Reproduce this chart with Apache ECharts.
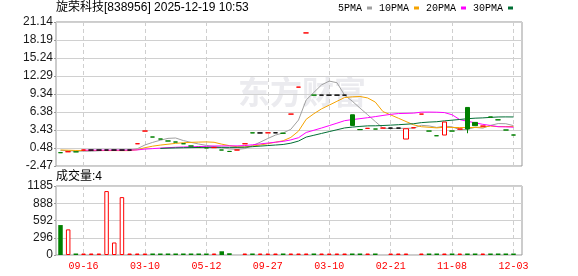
<!DOCTYPE html>
<html><head><meta charset="utf-8">
<script src="https://cdn.jsdelivr.net/npm/echarts@6/dist/echarts.min.js"></script>
<style>html,body{margin:0;padding:0;background:#fff}#c{width:578px;height:276px}</style>
</head><body><div id="c"></div>
<script>
const titleText = '旋荣科技[838956] 2025-12-19 10:53';
const volTitle = '成交量:4';
const legendNames = ['5PMA', '10PMA', '20PMA', '30PMA'];
const labelIdx = [3, 11, 19, 27, 35, 43, 51, 59];
const labelText = ['09-16', '03-10', '05-12', '09-27', '03-10', '02-21', '11-08', '12-03'];
const priceTicks = ['-2.47', '0.48', '3.43', '6.38', '9.34', '12.29', '15.24', '18.19', '21.14'];
const volTicks = ['0', '296', '592', '888', '1185'];

const opens = [-0.28, -0.13, -0.15, 0.15, 0.15, 0.15, 0.15, 0.15, 0.15, 0.15,
  1.18, 3.26, 2.28, 1.95, 1.63, 1.46, 1.18, 0.81, 0.58, 0.50,
  0.55, 0.15, -0.08, 0.15, 1.18, 2.97, 2.95, 2.97, 2.97, 2.90,
  6.04, 10.46, 19.35, 9.15, 9.15, 9.15, 9.15, 9.15, 5.93, 3.50,
  3.70, 3.59, 3.75, 3.75, 3.75, 1.95, 3.80, 6.04, 3.26, 2.49,
  2.61, 3.26, 3.59, 7.13, 4.68, 4.07, 5.57, 5.10, 3.43, 2.61];
const closes = [-0.29, -0.13, -0.15, 0.15, 0.15, 0.15, 0.15, 0.15, 0.15, 0.15,
  1.18, 3.26, 2.28, 1.95, 1.63, 1.46, 1.18, 0.81, 0.58, 0.50,
  0.55, 0.15, -0.08, 0.15, 1.18, 2.95, 2.95, 2.97, 2.97, 2.90,
  6.04, 10.46, 19.35, 9.15, 9.15, 9.15, 9.15, 9.15, 4.18, 3.50,
  3.70, 3.59, 3.75, 3.75, 3.75, 3.64, 3.80, 6.04, 3.26, 2.49,
  4.74, 3.26, 3.59, 3.60, 4.14, 4.08, 5.55, 5.10, 3.43, 2.61];
const lows = [-0.29, -0.13, -0.15, 0.15, 0.15, 0.15, 0.15, 0.15, 0.15, 0.15,
  1.18, 3.26, 2.28, 1.95, 1.63, 1.46, 1.18, 0.81, 0.58, 0.50,
  0.55, 0.15, -0.08, 0.15, 1.18, 2.95, 2.95, 2.97, 2.97, 2.90,
  6.04, 10.46, 19.35, 9.15, 9.15, 9.15, 9.15, 9.15, 4.18, 3.50,
  3.70, 3.59, 3.75, 3.75, 3.75, 1.95, 3.80, 6.04, 3.26, 2.49,
  2.61, 3.26, 3.59, 2.90, 4.14, 4.07, 5.55, 5.10, 3.43, 2.61];
const highs = [-0.28, -0.13, -0.15, 0.15, 0.15, 0.15, 0.15, 0.15, 0.15, 0.15,
  1.18, 3.26, 2.28, 1.95, 1.63, 1.46, 1.18, 0.81, 0.58, 0.50,
  0.55, 0.15, -0.08, 0.15, 1.18, 2.97, 2.95, 2.97, 2.97, 2.90,
  6.04, 10.46, 19.35, 9.15, 9.15, 9.15, 9.15, 9.15, 5.93, 3.50,
  3.70, 3.59, 3.75, 3.75, 3.75, 3.64, 3.80, 6.04, 3.26, 2.49,
  4.74, 3.26, 3.59, 7.13, 4.68, 4.08, 5.57, 5.10, 3.43, 2.61];
const volumes = [514, 440, 10, 10, 10, 10, 1098, 215, 994, 10,
  10, 10, 10, 10, 10, 10, 10, 10, 10, 10,
  10, 64, 30, null, 10, 10, 10, 10, 10, 10,
  10, 10, 10, 10, 10, 10, 10, 10, 10, 10,
  10, 10, null, 10, 10, 10, null, 10, 10, 10,
  10, 10, 10, 10, 10, 10, 10, 10, 10, 4];
const ma5 = [0.10, 0.04, -0.03, -0.04, -0.05, 0.03, 0.09, 0.15, 0.15, 0.15,
  0.36, 0.98, 1.40, 1.76, 2.06, 2.12, 1.70, 1.41, 1.13, 0.91,
  0.72, 0.52, 0.34, 0.25, 0.39, 0.87, 1.43, 2.04, 2.60, 2.95,
  3.55, 5.07, 8.36, 9.59, 10.83, 11.45, 11.19, 9.15, 8.16, 7.03,
  5.94, 4.82, 3.74, 3.66, 3.71, 3.70, 3.74, 4.20, 4.10, 3.85,
  4.07, 3.96, 3.47, 3.54, 3.87, 3.73, 4.19, 4.49, 4.46, 4.15];
const ma10 = [0.15, 0.12, 0.08, 0.08, 0.07, 0.07, 0.06, 0.06, 0.05, 0.05,
  0.20, 0.53, 0.78, 0.96, 1.10, 1.24, 1.34, 1.41, 1.45, 1.48,
  1.42, 1.11, 0.87, 0.69, 0.65, 0.80, 0.97, 1.19, 1.43, 1.67,
  2.22, 3.25, 5.19, 6.10, 6.90, 7.51, 8.14, 8.75, 8.87, 8.93,
  8.69, 8.01, 6.45, 5.91, 5.37, 4.82, 4.28, 3.97, 3.88, 3.78,
  3.88, 3.85, 3.83, 3.82, 3.86, 3.90, 4.08, 3.98, 4.00, 4.01];
const ma20 = [null, null, null, 0.13, 0.13, 0.13, 0.13, 0.13, 0.13, 0.13,
  0.17, 0.30, 0.38, 0.46, 0.54, 0.60, 0.65, 0.69, 0.72, 0.75,
  0.81, 0.82, 0.83, 0.83, 0.88, 1.01, 1.15, 1.29, 1.43, 1.57,
  1.81, 2.17, 3.03, 3.39, 3.76, 4.15, 4.55, 4.96, 5.14, 5.29,
  5.45, 5.63, 5.82, 6.00, 6.13, 6.16, 6.20, 6.36, 6.37, 6.35,
  6.29, 5.93, 5.14, 4.86, 4.61, 4.36, 4.18, 3.98, 3.94, 3.89];
const ma30 = [null, null, null, null, null, null, null, null, null, null,
  null, null, null, 0.41, 0.46, 0.50, 0.53, 0.55, 0.57, 0.58,
  0.59, 0.59, 0.58, 0.58, 0.61, 0.70, 0.79, 0.88, 0.97, 1.06,
  1.27, 1.62, 2.27, 2.57, 2.87, 3.17, 3.47, 3.77, 3.91, 4.02,
  4.11, 4.12, 4.17, 4.23, 4.30, 4.38, 4.46, 4.64, 4.73, 4.79,
  4.93, 5.04, 5.16, 5.28, 5.37, 5.42, 5.50, 5.57, 5.58, 5.57];

const UP = '#ff0000', DOWN = '#008000', FLAT = '#000000';
const maColors = ['#a0a0a0', '#f5a300', '#ff00ff', '#006f35'];
const cats = closes.map((_, i) => i);

const dirs = closes.map((c, i) => {
  const o = opens[i];
  if (c > o) return 1;
  if (c < o) return -1;
  const p = i > 0 ? closes[i - 1] : o;
  return c > p ? 1 : (c < p ? -1 : 0);
});
const candleData = closes.map((c, i) => {
  const col = dirs[i] > 0 ? UP : (dirs[i] < 0 ? DOWN : FLAT);
  const fill = (dirs[i] > 0) ? '#ffffff' : col;
  return { value: [opens[i], c, lows[i], highs[i]],
    itemStyle: { color: fill, color0: fill, borderColor: col, borderColor0: col, borderColorDoji: col } };
});
const volData = volumes.map((v, i) => {
  if (v == null) return '-';
  return dirs[i] < 0
    ? { value: v, itemStyle: { color: DOWN, borderColor: DOWN, borderWidth: 0 } }
    : { value: v, itemStyle: { color: '#ffffff', borderColor: UP, borderWidth: 1 } };
});

const isLabel = (idx) => labelIdx.indexOf(idx) >= 0;
const font = "'Liberation Sans', 'Noto Sans CJK SC', sans-serif";
const GL = 56, GR = 56, DL = 60.5, DR = 64.5;
const MT = 22, MH = 144, VT = 186, VH = 69;

const chart = echarts.init(document.getElementById('c'), null, { renderer: 'canvas' });
chart.setOption({
  animation: false,
  backgroundColor: '#ffffff',
  title: [
    { text: titleText, left: 56, top: 2, padding: 0, textStyle: { fontSize: 12, fontWeight: 'normal', fontFamily: font, color: '#000' } },
    { text: volTitle, left: 56, top: 171, padding: 0, textStyle: { fontSize: 12, fontWeight: 'normal', fontFamily: font, color: '#000' } }
  ],
  legend: {
    data: legendNames, left: 338, top: 3, padding: 0, itemWidth: 5, itemHeight: 3, itemGap: 7,
    align: 'right', icon: 'rect', selectedMode: false,
    textStyle: { fontFamily: "'Liberation Mono', monospace", fontSize: 10, color: '#000' }
  },
  graphic: [{
    type: 'text', left: 238, top: 76, z: -10, silent: true,
    style: { text: '东方财富', font: "bold 32px 'Noto Sans CJK SC'", fill: '#ebebef' }
  }],
  grid: [
    { left: GL, right: GR, top: MT, height: MH, show: true, borderColor: '#999', borderWidth: 1, backgroundColor: 'transparent' },
    { left: DL, right: DR, top: MT, height: MH },
    { left: GL, right: GR, top: VT, height: VH, show: true, borderColor: '#999', borderWidth: 1, backgroundColor: 'transparent' },
    { left: DL, right: DR, top: VT, height: VH }
  ],
  xAxis: [
    { gridIndex: 0, type: 'value', show: false, min: 0, max: 1 },
    { gridIndex: 1, type: 'category', data: cats, boundaryGap: false,
      axisLine: { show: false }, axisTick: { show: false }, axisLabel: { show: false },
      splitLine: { show: true, interval: (i) => isLabel(i), lineStyle: { color: '#cfcfcf', type: [4, 3], width: 1 } } },
    { gridIndex: 2, type: 'value', show: false, min: 0, max: 1 },
    { gridIndex: 3, type: 'category', data: cats, boundaryGap: false,
      axisLine: { show: false }, axisTick: { show: false },
      axisLabel: { show: true, interval: (i) => isLabel(i), margin: 6,
        formatter: (v, i) => labelText[labelIdx.indexOf(i)] || '',
        color: '#ff0000', fontFamily: "'Liberation Mono', monospace", fontSize: 10 },
      splitLine: { show: true, interval: (i) => isLabel(i), lineStyle: { color: '#cfcfcf', type: [4, 3], width: 1 } } }
  ],
  yAxis: [
    { gridIndex: 0, type: 'value', min: 0, max: 8, interval: 1,
      axisLine: { show: false }, axisTick: { show: true, length: 2, lineStyle: { color: '#999' } },
      axisLabel: { margin: 3, formatter: (v) => priceTicks[Math.round(v)], color: '#1a1a1a', fontFamily: font, fontSize: 12 },
      splitLine: { show: true, lineStyle: { color: '#d0d0d0', width: 1 } } },
    { gridIndex: 1, type: 'value', min: -2.47, max: 21.14, show: false, splitLine: { show: false } },
    { gridIndex: 2, type: 'value', min: 0, max: 4, interval: 1,
      axisLine: { show: false }, axisTick: { show: true, length: 2, lineStyle: { color: '#999' } },
      axisLabel: { margin: 3, formatter: (v) => volTicks[Math.round(v)], color: '#1a1a1a', fontFamily: font, fontSize: 12 },
      splitLine: { show: true, lineStyle: { color: '#d0d0d0', width: 1 } } },
    { gridIndex: 3, type: 'value', min: 0, max: 1185, show: false, splitLine: { show: false } }
  ],
  series: [
    { name: '5PMA', type: 'line', xAxisIndex: 1, yAxisIndex: 1, data: ma5, symbol: 'none', z: 3,
      itemStyle: { color: maColors[0] }, lineStyle: { color: maColors[0], width: 1 } },
    { name: '10PMA', type: 'line', xAxisIndex: 1, yAxisIndex: 1, data: ma10, symbol: 'none', z: 3,
      itemStyle: { color: maColors[1] }, lineStyle: { color: maColors[1], width: 1 } },
    { name: '20PMA', type: 'line', xAxisIndex: 1, yAxisIndex: 1, data: ma20, symbol: 'none', z: 3,
      itemStyle: { color: maColors[2] }, lineStyle: { color: maColors[2], width: 1 } },
    { name: '30PMA', type: 'line', xAxisIndex: 1, yAxisIndex: 1, data: ma30, symbol: 'none', z: 3,
      itemStyle: { color: maColors[3] }, lineStyle: { color: maColors[3], width: 1 } },
    { name: 'K', type: 'candlestick', xAxisIndex: 1, yAxisIndex: 1, data: candleData, barWidth: 5, clip: false, z: 4 },
    { name: 'VOL', type: 'bar', xAxisIndex: 3, yAxisIndex: 3, data: volData, barWidth: 4.5, barMinHeight: 1.5, clip: false }
  ]
});
</script>
</body></html>
